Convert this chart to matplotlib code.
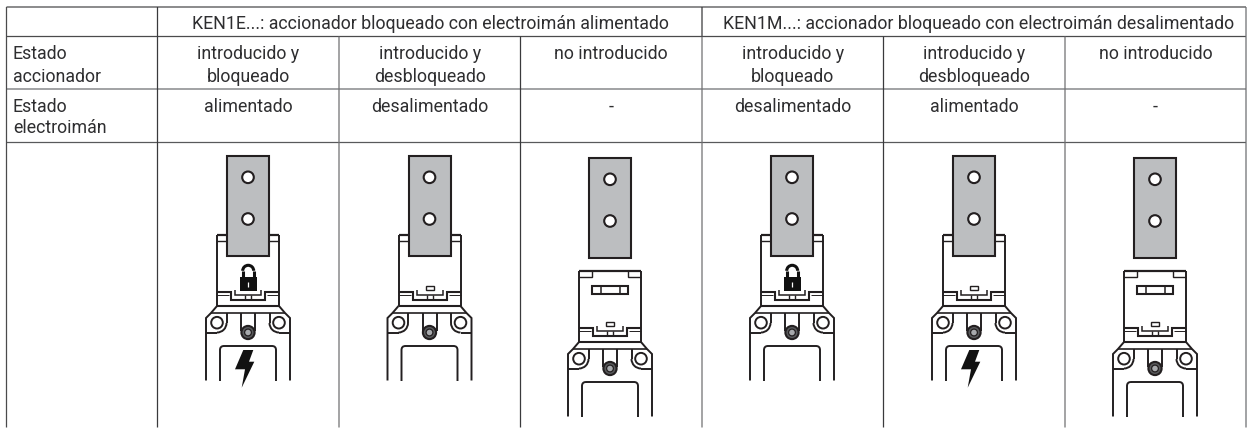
import matplotlib
matplotlib.use("Agg")
import matplotlib.pyplot as plt
from matplotlib.patches import Rectangle, Circle, Polygon, FancyBboxPatch, Arc

plt.rcParams['font.family'] = ['Roboto', 'Liberation Sans', 'DejaVu Sans']

# table text
header_labels = ["KEN1E...: accionador bloqueado con electroimán alimentado",
                 "KEN1M...: accionador bloqueado con electroimán desalimentado"]
row_labels = ["Estado\naccionador", "Estado\nelectroimán"]
actuator_state = ["introducido y\nbloqueado", "introducido y\ndesbloqueado", "no introducido",
                  "introducido y\nbloqueado", "introducido y\ndesbloqueado", "no introducido"]
magnet_state = ["alimentado", "desalimentado", "-", "desalimentado", "alimentado", "-"]

# table grid, in pixels of the picture
col_edges = [6.5, 157.5, 339, 520.5, 702, 883.5, 1065, 1246]
row_edges = [7, 36.5, 89, 142.5, 427.5]
header_edges = [157.5, 702]

# the six switch drawings
centers = [248, 429.5, 610, 792, 974, 1155]
head_tops = [235, 235, 271, 235, 235, 271]
has_lock = [True, False, False, True, False, False]
has_bolt = [True, False, False, False, True, False]

DARK = "#231f20"
TEXT = "#2e2e30"
GREY = "#bcbec0"
LW = 1.4

fig = plt.figure(figsize=(12.54, 4.28), dpi=100)
ax = fig.add_axes([0, 0, 1, 1])
ax.set_xlim(0, 1254)
ax.set_ylim(428, 0)
ax.axis("off")


def grid_line(xs, ys, color="#4a4a4c", lw=0.9):
    ax.plot(xs, ys, color=color, lw=lw, solid_capstyle="butt", snap=False, zorder=1)


def draw_switch(cx, top, lock, bolt):
    def line(pts, lw=LW, color=DARK, z=3):
        ax.plot([cx + p[0] for p in pts], [top + p[1] for p in pts], color=color, lw=lw,
                solid_joinstyle="miter", solid_capstyle="butt", zorder=z)

    # head
    line([(-31, 0), (-31, 71)])
    line([(31, 0), (31, 71)])
    line([(-31, 0), (31, 0)], 1.6)
    line([(-31, 6), (-18, 6), (-18, 0)], 1.0)
    line([(31, 6), (18, 6), (18, 0)], 1.0)
    if top > 250:
        ax.add_patch(Rectangle((cx - 18, top + 14.5), 36, 8.5, fc="none", ec=DARK, lw=1.5, zorder=3))
        line([(-9.5, 14.5), (-9.5, 23)], 1.1)
        line([(9.5, 14.5), (9.5, 23)], 1.1)
    if not lock:
        ax.add_patch(Rectangle((cx - 3.7, top + 50.5), 7.7, 4.5, fc="none", ec=DARK, lw=1.0, zorder=3))

    # band with the locking step
    line([(-31, 57), (-17, 57), (-17, 65), (17, 65), (17, 57), (31, 57)], 1.5)
    line([(-31, 59.5), (-19, 59.5)], 0.7)
    line([(31, 59.5), (19, 59.5)], 0.7)
    line([(-13, 55), (-13, 60), (13, 60), (13, 55)], 1.1)
    line([(-3, 60), (-3, 65)], 1.0)
    line([(3, 60), (3, 65)], 1.0)

    # base plate
    line([(-31, 71), (31, 71)], 1.5)
    line([(-31, 71), (-37, 78), (-42, 83), (-42, 145.5)])
    line([(31, 71), (37, 78), (42, 83), (42, 145.5)])
    line([(-37, 78), (37, 78)], 1.2)
    for side in (-1, 1):
        ax.add_patch(Circle((cx + side * 31, top + 87.7), 5.8, fc="white", ec=DARK, lw=1.4, zorder=3))
        line([(side * 21.5, 78), (side * 21.5, 88)])
        line([(side * 31, 97.5), (side * 42, 97.5)])
        t1, t2 = (0, 90) if side < 0 else (90, 180)
        ax.add_patch(Arc((cx + side * 31, top + 88), 19, 19, theta1=t1, theta2=t2, ec=DARK, lw=LW, zorder=3))
        line([(side * 7, 78), (side * 7, 96)])

    # screw
    ax.add_patch(Circle((cx, top + 97.5), 6.6, fc="#58595b", ec=DARK, lw=1.5, zorder=3))
    ax.add_patch(Circle((cx, top + 97.5), 3.4, fc="#a7a9ac", ec="#231f20", lw=0.9, zorder=3))

    # lower window, cut off with the body
    win = FancyBboxPatch((cx - 25, top + 114), 50, 60, boxstyle="round,pad=3,rounding_size=4",
                         fc="none", ec=DARK, lw=LW, zorder=3)
    ax.add_patch(win)
    win.set_clip_path(Rectangle((cx - 50, top + 100), 100, 45.5, transform=ax.transData))

    if lock:
        ax.add_patch(Rectangle((cx - 8, top + 42.3), 16.5, 13.5, fc="#111111", ec="none", zorder=3))
        ax.add_patch(Arc((cx + 0.2, top + 35.8), 11, 11, theta1=180, theta2=360, ec="#111111", lw=2.2, zorder=3))
        line([(-5.3, 35.5), (-5.3, 43)], 2.2, "#111111")
        line([(5.7, 35.5), (5.7, 43)], 2.2, "#111111")
        line([(0.2, 47), (0.2, 52)], 0.9, "white", 4)

    if bolt:
        bolt_pts = [(-4.7, 115), (5.3, 115), (1, 126.7), (6.3, 126.7), (-6.3, 152.7), (-3, 134.3), (-13, 134.3)]
        ax.add_patch(Polygon([(cx + x, top + y) for x, y in bolt_pts], fc="#111111", ec="none", zorder=4))

    # actuator plate, lies on top of the head
    py = top - 113 if top > 250 else top - 79
    ax.add_patch(Rectangle((cx - 21, py), 42, 100, fc=GREY, ec=DARK, lw=1.5, zorder=5))
    for hy in (21.3, 63):
        ax.add_patch(Circle((cx, py + hy), 5.8, fc="white", ec=DARK, lw=1.5, zorder=6))


# grid
grid_line([col_edges[0], col_edges[-1]], [row_edges[0], row_edges[0]])
grid_line([col_edges[0], col_edges[-1]], [row_edges[1], row_edges[1]])
grid_line([col_edges[0], col_edges[-1]], [row_edges[2], row_edges[2]], color="#6d6e71")
grid_line([col_edges[0], col_edges[-1]], [row_edges[3], row_edges[3]], color="#58595b")
grid_line([col_edges[0], col_edges[0]], [row_edges[0], row_edges[-1]])
grid_line([col_edges[-1], col_edges[-1]], [row_edges[0], row_edges[-1]], color="#6d6e71")
for x in col_edges[1:-1]:
    grid_line([x, x], [row_edges[1], row_edges[-1]], color="#707072" if x % 1 == 0 else "#3a3a3c")
for x in header_edges:
    grid_line([x, x], [row_edges[0], row_edges[1]], color="#3a3a3c")

# text
FS = 12.75
ax.text(430, 29, header_labels[0], ha="center", va="baseline", fontsize=FS, color=TEXT)
ax.text(978.5, 29, header_labels[1], ha="center", va="baseline", fontsize=FS, color=TEXT)

line_baselines = [[59, 81.5], [111.5, 133]]
for r, lab in enumerate(row_labels):
    for part, y in zip(lab.split("\n"), line_baselines[r]):
        ax.text(13, y, part, ha="left", va="baseline", fontsize=FS, color=TEXT)
for i in range(6):
    cx = (col_edges[i + 1] + col_edges[i + 2]) / 2
    for part, y in zip(actuator_state[i].split("\n"), line_baselines[0]):
        ax.text(cx, y, part, ha="center", va="baseline", fontsize=FS, color=TEXT)
    ax.text(cx, line_baselines[1][0], magnet_state[i], ha="center", va="baseline", fontsize=FS, color=TEXT)

for cx, top, lock, bolt in zip(centers, head_tops, has_lock, has_bolt):
    draw_switch(cx, top, lock, bolt)

fig.savefig("out.png", dpi=100)
